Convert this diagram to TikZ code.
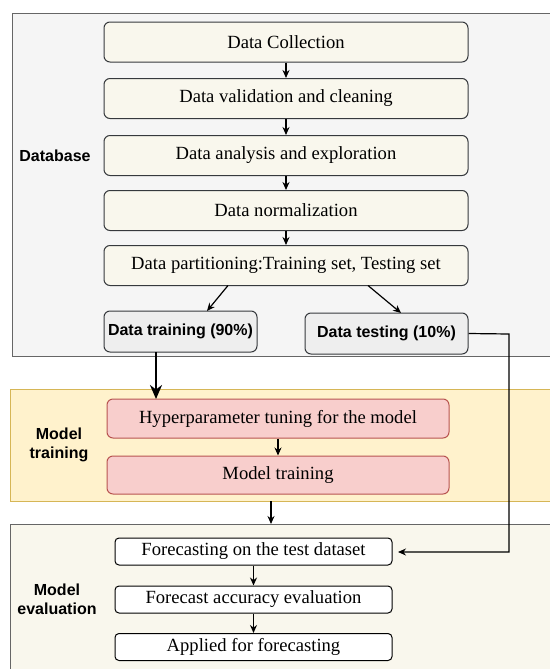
\documentclass[tikz,border=0pt]{standalone}
\usepackage{fontspec}
\setmainfont{Liberation Serif}
\setsansfont{Liberation Sans}
\usetikzlibrary{arrows.meta,calc}
\definecolor{dbfill}{HTML}{F5F5F5}
\definecolor{dbline}{HTML}{666666}
\definecolor{beige}{HTML}{F9F7ED}
\definecolor{boxline}{HTML}{36393D}
\definecolor{grayfill}{HTML}{EEEEEE}
\definecolor{yelfill}{HTML}{FFF2CC}
\definecolor{yelline}{HTML}{D6B656}
\definecolor{redfill}{HTML}{F8CECC}
\definecolor{redline}{HTML}{B85450}
\tikzset{
  base/.style={draw=boxline, line width=0.5pt, rounded corners=3pt, align=center, inner sep=0pt,
    font=\fontsize{9.3}{11}\selectfont},
  stepbox/.style={base, fill=beige, minimum width=182pt, minimum height=20pt},
  splitbox/.style={base, fill=grayfill, minimum height=20.5pt, font=\sffamily\bfseries\fontsize{8}{10}\selectfont},
  redbox/.style={base, draw=redline, fill=redfill, minimum width=171pt, minimum height=19.5pt},
  evalbox/.style={base, draw=black, fill=white, rounded corners=2pt, minimum width=138.5pt, minimum height=13.5pt},
  lbl/.style={font=\sffamily\bfseries\fontsize{8}{9.5}\selectfont, align=center},
  arr/.style={-{Stealth[length=4pt,width=3.5pt]}, line width=0.6pt, black},
}
\begin{document}
\begin{tikzpicture}[x=0.5pt,y=-0.5pt]
\useasboundingbox (0,0) rectangle (550,669);
\clip (0,0) rectangle (550,669);
% containers
\draw[dbline, fill=dbfill, line width=0.5pt] (12,13) rectangle (560,356);
\draw[yelline, fill=yelfill, line width=0.5pt] (10,389) rectangle (560,501);
\draw[dbline, fill=beige, line width=0.5pt] (10,524) rectangle (560,690);
% labels
\node[lbl] (ldb) at (55,156) {Database};
\node[lbl] (lmt) at (59,445) {Model\\training};
\node[lbl] (lme) at (57,599) {Model\\evaluation};
% database steps
\node[stepbox] (s1) at (286,42) {Data Collection};
\node[stepbox] (s2) at (286,98.5) {Data validation and cleaning};
\node[stepbox] (s3) at (286,155.5) {Data analysis and exploration};
\node[stepbox] (s4) at (286,210.5) {Data normalization};
\node[stepbox] (s5) at (286,265.5) {Data partitioning:Training set, Testing set};
\node[splitbox, minimum width=76.5pt] (tr) at (180.5,331.5) {Data training (90\%)};
\node[splitbox, minimum width=81.5pt] (te) at (386.5,333.5) {Data testing (10\%)};
% model training
\node[redbox] (h1) at (278,418.5) {Hyperparameter tuning for the model};
\node[redbox, minimum height=19pt] (h2) at (278,475) {Model training};
% evaluation
\node[evalbox] (e1) at (253.5,551.5) {Forecasting on the test dataset};
\node[evalbox] (e2) at (253.5,599.5) {Forecast accuracy evaluation};
\node[evalbox] (e3) at (253.5,647) {Applied for forecasting};
% arrows
\draw[arr] (s1) -- (s2);
\draw[arr] (s2) -- (s3);
\draw[arr] (s3) -- (s4);
\draw[arr] (s4) -- (s5);
\coordinate (p1) at (228,285.5);
\coordinate (t1) at (207,311);
\coordinate (p2) at (368,285.5);
\coordinate (t2) at (401,313);
\draw[arr] (p1) -- (t1);
\draw[arr] (p2) -- (t2);
\coordinate (tb) at (156,352);
\coordinate (hb) at (156,399);
\draw[-{Stealth[length=7pt,width=6pt]}, line width=1.3pt] (tb) -- (hb);
\draw[arr] (h1) -- (h2);
\coordinate (mb) at (271,501);
\coordinate (eb) at (271,524);
\draw[arr, line width=0.9pt] (mb) -- (eb);
\coordinate (c1) at (509,334);
\coordinate (c2) at (398,552);
\draw[arr] (te.east) -- (c1) |- (c2);
\draw[arr] (e1) -- (e2);
\draw[arr] (e2) -- (e3);
\end{tikzpicture}
\end{document}
